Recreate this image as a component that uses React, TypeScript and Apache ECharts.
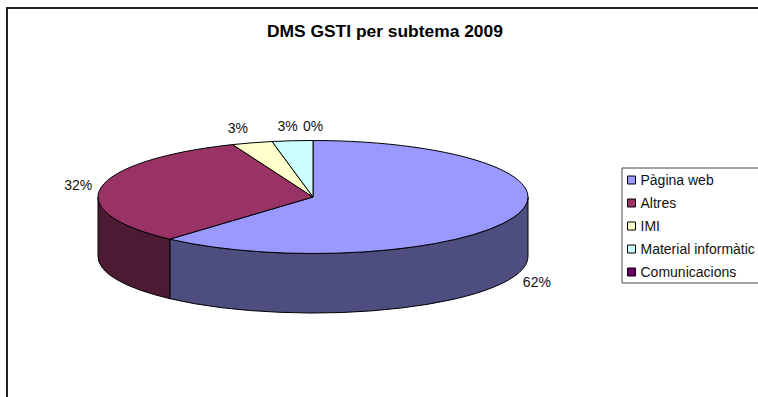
import React, { useEffect, useRef } from "react";
import * as echarts from "echarts";

const categories = ["Pàgina web", "Altres", "IMI", "Material informàtic", "Comunicacions"];
const shares = [61.6, 32.3, 3.05, 3.05, 0];
const topColors = ["#9999FF", "#993366", "#FFFFCC", "#CCFFFF", "#660066"];
const sideColors = ["#4D4D80", "#4D1A33", "#808066", "#668080", "#330033"];
const titleText = "DMS GSTI per subtema 2009";

const FONT = "'Liberation Sans', Arial, sans-serif";
const CX = 313;
const CY = 197;
const RX = 215;
const RY = 56.5;
const DEPTH = 59.5;
const LABEL_FONT = `14px ${FONT}`;

const total = shares.reduce((a, b) => a + b, 0);
const pt = (deg: number, dy = 0) => {
  const r = (deg * Math.PI) / 180;
  return [CX + RX * Math.sin(r), CY - RY * Math.cos(r) + dy];
};
const f = (n: number) => n.toFixed(2);

function topPath(a: number, b: number) {
  const p = pt(a);
  const q = pt(b);
  const large = b - a > 180 ? 1 : 0;
  return `M${CX} ${CY}L${f(p[0])} ${f(p[1])}A${RX} ${RY} 0 ${large} 1 ${f(q[0])} ${f(q[1])}Z`;
}

function sidePath(a: number, b: number) {
  const s = Math.max(a, 90);
  const e = Math.min(b, 270);
  if (e <= s) return null;
  const p = pt(s);
  const q = pt(e);
  const q2 = pt(e, DEPTH);
  const p2 = pt(s, DEPTH);
  return (
    `M${f(p[0])} ${f(p[1])}A${RX} ${RY} 0 0 1 ${f(q[0])} ${f(q[1])}` +
    `L${f(q2[0])} ${f(q2[1])}A${RX} ${RY} 0 0 0 ${f(p2[0])} ${f(p2[1])}Z`
  );
}

function sliceRenderer(index: number) {
  const before = shares.slice(0, index).reduce((a, b) => a + b, 0);
  return (_params: any, api: any) => {
    const value = api.value(0) as number;
    const a = (before / total) * 360;
    const b = ((before + value) / total) * 360;
    const mid = (a + b) / 2;
    const children: any[] = [];
    const side = sidePath(a, b);
    const lineStyle = { stroke: "#000", lineWidth: 1 };
    if (side) {
      children.push({
        type: "path",
        shape: { pathData: side },
        style: { fill: sideColors[index], ...lineStyle },
      });
    }
    if (value > 0) {
      children.push({
        type: "path",
        shape: { pathData: topPath(a, b) },
        style: { fill: topColors[index], ...lineStyle },
      });
    }
    const r = (mid * Math.PI) / 180;
    const front = Math.cos(r) < -0.1;
    const anchor = pt(mid, front ? DEPTH : 0);
    const dx = Math.max(-23, Math.min(23, Math.sin(r) * 50));
    children.push({
      type: "text",
      x: anchor[0] + dx,
      y: anchor[1] - Math.cos(r) * 15,
      style: {
        text: `${Math.round((value / total) * 100)}%`,
        font: LABEL_FONT,
        fill: "#111",
        align: "center",
        verticalAlign: "middle",
      },
    });
    return { type: "group", children };
  };
}

export default function App() {
  const ref = useRef<HTMLDivElement>(null);
  useEffect(() => {
    document.body.style.margin = "0";
    const chart = echarts.init(ref.current!, undefined, { renderer: "svg" });
    chart.setOption({
      animation: false,
      backgroundColor: "#fff",
      title: {
        text: titleText,
        left: 267,
        top: 22,
        padding: 0,
        textStyle: { fontFamily: FONT, fontSize: 17.4, fontWeight: "bold", color: "#000" },
      },
      legend: {
        orient: "vertical",
        left: 622,
        top: 168,
        data: categories,
        icon: "rect",
        itemWidth: 8,
        itemHeight: 8,
        itemGap: 9,
        padding: [5, 6, 4, 5],
        borderColor: "#444",
        borderWidth: 1,
        backgroundColor: "#fff",
        selectedMode: false,
        itemStyle: { borderColor: "#000", borderWidth: 1 },
        textStyle: { fontFamily: FONT, fontSize: 14, lineHeight: 14, color: "#111" },
      },
      graphic: [
        {
          type: "rect",
          shape: { x: 7, y: 8, width: 900, height: 600 },
          style: { fill: "none", stroke: "#222", lineWidth: 2 },
          silent: true,
          z: 0,
        },
      ],
      series: categories.map((name, i) => ({
        type: "custom",
        name,
        coordinateSystem: "none",
        renderItem: sliceRenderer(i),
        itemStyle: { color: topColors[i] },
        data: [{ name, value: [shares[i]] }],
        z: 2,
      })),
    });
    return () => chart.dispose();
  }, []);
  return <div ref={ref} style={{ width: 758, height: 397 }} />;
}
